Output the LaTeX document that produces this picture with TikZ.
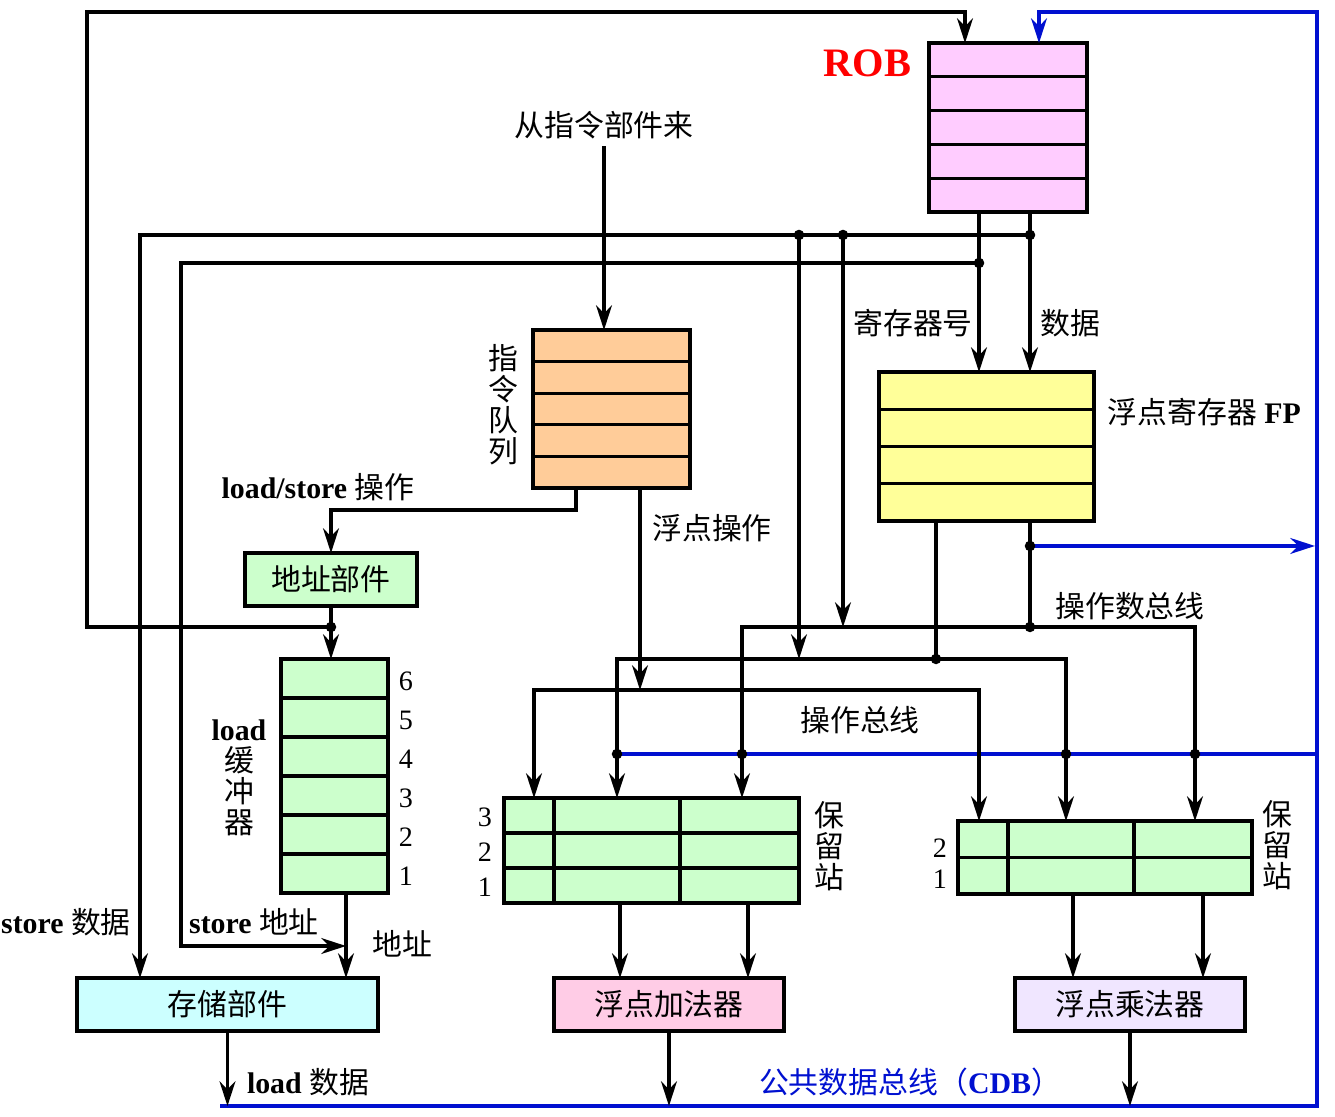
\documentclass[tikz,border=0pt]{standalone}
\usepackage{fontspec}
\setmainfont{Liberation Serif}
\newfontfamily\cjk{Noto Sans CJK SC}
\usetikzlibrary{calc,arrows.meta}
\definecolor{robpink}{HTML}{FFCCFF}
\definecolor{iqorange}{HTML}{FFCC99}
\definecolor{fpyellow}{HTML}{FFFF99}
\definecolor{rsgreen}{HTML}{CCFFCC}
\definecolor{stocyan}{HTML}{CCFFFF}
\definecolor{addpink}{HTML}{FFCCE6}
\definecolor{mullav}{HTML}{F0E6FF}
\definecolor{cdbblue}{HTML}{0010D0}
\newcommand\zh[1]{{\cjk #1}}

\begin{document}
\begin{tikzpicture}[x=0.02cm,y=-0.02cm,>={Stealth[length=14pt,width=9pt,inset=4.5pt]},
  line width=1.9pt,
  every node/.style={font=\fontsize{17}{17.6}\selectfont},
  zh/.style={font=\fontsize{17}{17.6}\selectfont\cjk},
  num/.style={font=\fontsize{16}{16}\selectfont},
  block/.style={draw, inner sep=0pt, outer sep=0pt, anchor=north west, zh},
  cdb/.style={draw=cdbblue}]
  \useasboundingbox (0,0) rectangle (1335,1116);

  \node[block,fill=robpink,minimum width=3.16cm,minimum height=3.38cm] (rob) at (929,43) {};
  \node[block,fill=iqorange,minimum width=3.14cm,minimum height=3.16cm] (iq) at (533,330) {};
  \node[block,fill=fpyellow,minimum width=4.3cm,minimum height=2.98cm] (fp) at (879,372) {};
  \node[block,fill=rsgreen,minimum width=3.44cm,minimum height=1.06cm] (addr) at (245,553) {地址部件};
  \node[block,fill=rsgreen,minimum width=2.14cm,minimum height=4.68cm] (lbuf) at (281,659) {};
  \node[block,fill=stocyan,minimum width=6.02cm,minimum height=1.06cm] (store) at (77,978) {存储部件};
  \node[block,fill=rsgreen,minimum width=5.9cm,minimum height=2.1cm] (rs1) at (504,798) {};
  \node[block,fill=rsgreen,minimum width=5.88cm,minimum height=1.46cm] (rs2) at (958,821) {};
  \node[block,fill=addpink,minimum width=4.6cm,minimum height=1.06cm] (fadd) at (554,978) {浮点加法器};
  \node[block,fill=mullav,minimum width=4.6cm,minimum height=1.06cm] (fmul) at (1015,978) {浮点乘法器};

  \foreach \n/\k in {rob/5,iq/5,fp/4,lbuf/6,rs1/3,rs2/2} {
    \pgfmathtruncatemacro\m{\k-1}
    \foreach \i in {1,...,\m}
      \draw ($(\n.north west)!{\i/\k}!(\n.south west)$) -- ($(\n.north east)!{\i/\k}!(\n.south east)$);
  }
  \foreach \n in {rs1,rs2} \foreach \c in {50,176}
    \draw ($(\n.north west)+(\c,0)$) -- ($(\n.south west)+(\c,0)$);

  \node[red,anchor=east,inner sep=0pt,font=\fontsize{23}{23}\selectfont\bfseries] at ($(rob.north west)+(-16,20)$) {ROB};
  \node[zh] (src) at (604,125) {从指令部件来};
  \node[zh,anchor=east,align=center,inner sep=0pt] at ($(iq.west)+(-13,-4)$) {指\\令\\队\\列};
  \node[anchor=east,align=center,inner sep=0pt] at ($(lbuf.west)+(-13,2)$) {\textbf{load}\\\zh{缓}\\\zh{冲}\\\zh{器}};
  \node[anchor=west,inner sep=0pt] at ($(fp.north east)+(12,40)$) {\zh{浮点寄存器} \textbf{FP}};
  \node[zh,anchor=west,align=center,inner sep=0pt] at ($(rs1.east)+(14,-4)$) {保\\留\\站};
  \node[zh,anchor=west,align=center,inner sep=0pt] at ($(rs2.east)+(9,-12)$) {保\\留\\站};
  \foreach \n [count=\i] in {6,5,4,3,2,1}
    \node[num] at ($(lbuf.north east)+(18,{39*\i-17})$) {\n};
  \foreach \n [count=\i] in {3,2,1}
    \node[num] at ($(rs1.north west)+(-19,{35*\i-16})$) {\n};
  \foreach \n [count=\i] in {2,1}
    \node[num] at ($(rs2.north west)+(-18,{31*\i-4})$) {\n};

  \node[zh] at (913,323) {寄存器号};
  \node[zh] at (1070,323) {数据};
  \node[zh] at (712,528) {浮点操作};
  \node at (318,487) {\textbf{load/store} \zh{操作}};
  \node at (66,922) {\textbf{store} \zh{数据}};
  \node at (254,922) {\textbf{store} \zh{地址}};
  \node[zh] at (402,944) {地址};
  \node at (308,1082) {\textbf{load} \zh{数据}};
  \node[zh] at (860,720) {操作总线};
  \node[zh] at (1130,606) {操作数总线};
  \node[cdbblue] at (910,1082) {\zh{公共数据总线（}\textbf{CDB}\zh{）}};

  \coordinate (ql) at ($(iq.south west)+(43,0)$);
  \coordinate (qf) at ($(iq.south west)+(107,0)$);
  \coordinate (i11) at ($(rs1.north west)+(30,0)$);
  \coordinate (i12) at ($(rs1.north west)+(113,0)$);
  \coordinate (i13) at ($(rs1.north west)+(238,0)$);
  \coordinate (i21) at ($(rs2.north west)+(21,0)$);
  \coordinate (i22) at ($(rs2.north west)+(108,0)$);
  \coordinate (i23) at ($(rs2.north west)+(237,0)$);
  \coordinate (opr) at (979,690);
  \coordinate (fa) at ($(fp.south west)+(57,0)$);
  \coordinate (fb) at ($(fp.south west)+(151,0)$);
  \coordinate (fadot) at ($(fa)+(0,138)$);
  \coordinate (fbdot) at ($(fb)+(0,106)$);
  \coordinate (fbc) at ($(fb)+(0,25)$);
  \coordinate (robr) at ($(rob.south west)+(50,0)$);
  \coordinate (robd) at ($(rob.south west)+(101,0)$);
  \coordinate (rd) at ($(robd)+(0,23)$);
  \coordinate (rr) at ($(robr)+(0,51)$);
  \coordinate (rd1) at ($(rd)+(-231,0)$);
  \coordinate (rd2) at ($(rd)+(-187,0)$);
  \coordinate (sa) at (181,946);
  \coordinate (lb) at ($(lbuf.south west)+(65,0)$);
  \coordinate (ad) at ($(addr.south)+(0,21)$);
  \coordinate (ltop) at (87,12);
  \coordinate (robk) at ($(rob.north west)+(36,0)$);
  \coordinate (robc) at ($(rob.north west)+(110,0)$);
  \coordinate (o11) at ($(rs1.south west)+(116,0)$);
  \coordinate (o12) at ($(rs1.south west)+(244,0)$);
  \coordinate (o21) at ($(rs2.south west)+(115,0)$);
  \coordinate (o22) at ($(rs2.south west)+(245,0)$);
  \coordinate (cl) at (220,1106);
  \coordinate (cr) at (1317,1106);
  \coordinate (ctop) at (1317,12);
  \coordinate (cc) at ($(i12)+(0,-44)$);

  \draw[cdb,->] (cl) -- (cr) -- (ctop) -| (robc);
  \draw[cdb] (cc) -- (cc -| cr);
  \draw[cdb,->] (fbc) -- ($(fbc -| cr)+(-2,0)$);

  \draw[->] (src.south) -- (src.south |- iq.north);
  \draw[->] (ql) -- ++(0,22) -| (addr.north);
  \draw[->] (qf) -- (qf |- opr);
  \draw[<->] (i11) |- (opr) -- (i21);
  \draw (fa) -- (fadot);
  \draw (fb) -- (fbdot);
  \draw[<->] (i12) |- (fadot) -| (i22);
  \draw[<->] (i13) |- (fbdot) -| (i23);
  \draw[->] (robr) -- (robr |- fp.north);
  \draw[->] (robd) -- (robd |- fp.north);
  \draw[->] (rd) -| ($(store.north west)+(63,0)$);
  \draw[->] (rd1) -- (rd1 |- fadot);
  \draw[->] (rd2) -- (rd2 |- fbdot);
  \draw[->] (rr) -| (sa) -- (sa -| lb);
  \draw[->] (lb) -- (lb |- store.north);
  \draw[->] (addr.south) -- (addr.south |- lbuf.north);
  \draw[->] (ad) -| (ltop) -| (robk);
  \draw[->] (o11) -- (o11 |- fadd.north);
  \draw[->] (o12) -- (o12 |- fadd.north);
  \draw[->] (o21) -- (o21 |- fmul.north);
  \draw[->] (o22) -- (o22 |- fmul.north);
  \draw[->] (store.south) -- (store.south |- cl);
  \draw[->] (fadd.south) -- (fadd.south |- cl);
  \draw[->] (fmul.south) -- (fmul.south |- cl);

  \foreach \p in {ad,rd,rr,rd1,rd2,fbc,fbdot,fadot}
    \fill (\p) circle (3pt);
  \foreach \p in {i12,i13,i22,i23}
    \fill (cc -| \p) circle (3pt);
\end{tikzpicture}
\end{document}
